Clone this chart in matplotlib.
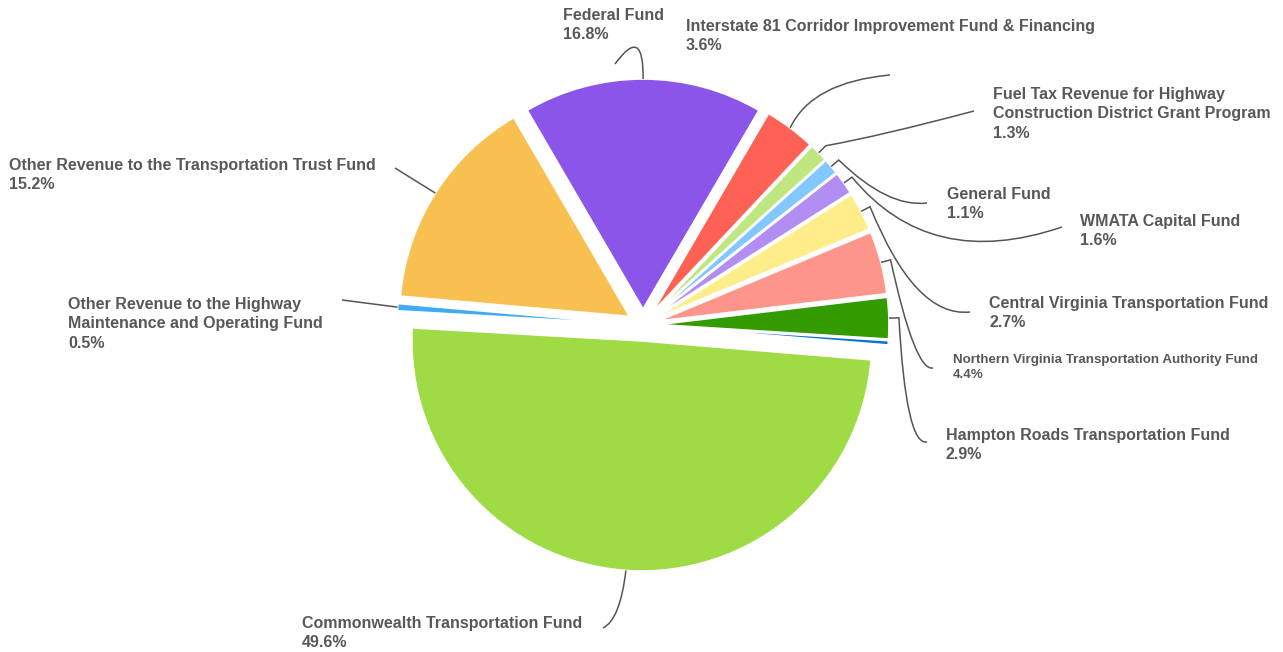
import numpy as np
import matplotlib.pyplot as plt
from matplotlib.path import Path
from matplotlib.patches import PathPatch

W, H = 1283, 652

# Funds in drawing order, counter-clockwise starting just below 3 o'clock
funds = [
    "Other",
    "Hampton Roads Transportation Fund",
    "Northern Virginia Transportation Authority Fund",
    "Central Virginia Transportation Fund",
    "WMATA Capital Fund",
    "General Fund",
    "Fuel Tax Revenue for Highway\nConstruction District Grant Program",
    "Interstate 81 Corridor Improvement Fund & Financing",
    "Federal Fund",
    "Other Revenue to the Transportation Trust Fund",
    "Other Revenue to the Highway\nMaintenance and Operating Fund",
    "Commonwealth Transportation Fund",
]
shares = [0.3, 2.9, 4.4, 2.7, 1.6, 1.1, 1.3, 3.6, 16.8, 15.2, 0.5, 49.6]
colors = ["#0b6fd3", "#339a00", "#fe958a", "#ffed8a", "#b28ef2", "#82c8ff",
          "#bfe67f", "#ff6255", "#8b55ea", "#f8c050", "#40aaf5", "#9edb45"]

# label layout in pixels from the top-left corner:
# (text x, text top, connector end x, end y, curve control x, y, stub, font size)
layout = {
    1: (946, 429, 927, 442, 906, 446, True, 11.5),
    2: (953, 355, 933, 368, 915, 372, True, 9.6),
    3: (989, 297, 970, 312, 915, 318, True, 11.5),
    4: (1080, 215, 1062, 227, 930, 272, True, 11.5),
    5: (947, 188, 927, 203, 888, 208, True, 11.5),
    6: (993, 88, 974, 111, 880, 136, True, 11.5),
    7: (686, 20, 890, 75, 812, 82, False, 11.5),
    8: (563, 9, 615, 64, 644, 24, False, 11.5),
    9: (9, 159, 395, 168, None, None, False, 11.5),
    10: (68, 298, 342, 300, None, None, False, 11.5),
    11: (302, 617, 603, 628, 620, 620, False, 11.5),
}

center = (643, H - 325)
radius = 230
offset = 16
start = -4.7
text_color = "#585858"

fig = plt.figure(figsize=(W / 100, H / 100), dpi=100)
ax = fig.add_axes([0, 0, 1, 1])
ax.pie(shares, colors=colors, startangle=start, counterclock=True,
       radius=radius, center=center, explode=[offset] * len(shares),
       wedgeprops=dict(edgecolor="white", linewidth=1.2))
ax.set_xlim(0, W)
ax.set_ylim(0, H)
ax.set_aspect("equal")
ax.axis("off")

# mid angle of each wedge
bounds = start + 360 * np.concatenate([[0], np.cumsum(shares)]) / 100
mids = np.deg2rad((bounds[:-1] + bounds[1:]) / 2)

for i, (tx, ty, ex, ey, cx, cy, stub, fs) in layout.items():
    u = np.array([np.cos(mids[i]), np.sin(mids[i])])
    p0 = np.array(center) + (radius + offset) * u
    end = (ex, H - ey)
    verts = [p0]
    codes = [Path.MOVETO]
    if stub:
        verts.append(np.array(center) + (radius + offset + 10) * u)
        codes.append(Path.LINETO)
    if cx is None:
        verts.append(end)
        codes.append(Path.LINETO)
    else:
        verts += [(cx, H - cy), end]
        codes += [Path.CURVE3, Path.CURVE3]
    ax.add_patch(PathPatch(Path(verts, codes), fill=False,
                           edgecolor="#555555", linewidth=1.1))
    ax.text(tx, H - ty + 1, f"{funds[i]}\n{shares[i]:.1f}%", ha="left",
            va="top", fontsize=fs, fontweight="bold", color=text_color,
            family="Liberation Sans", linespacing=1.36)

fig.savefig("out.png", dpi=100, facecolor="white")
